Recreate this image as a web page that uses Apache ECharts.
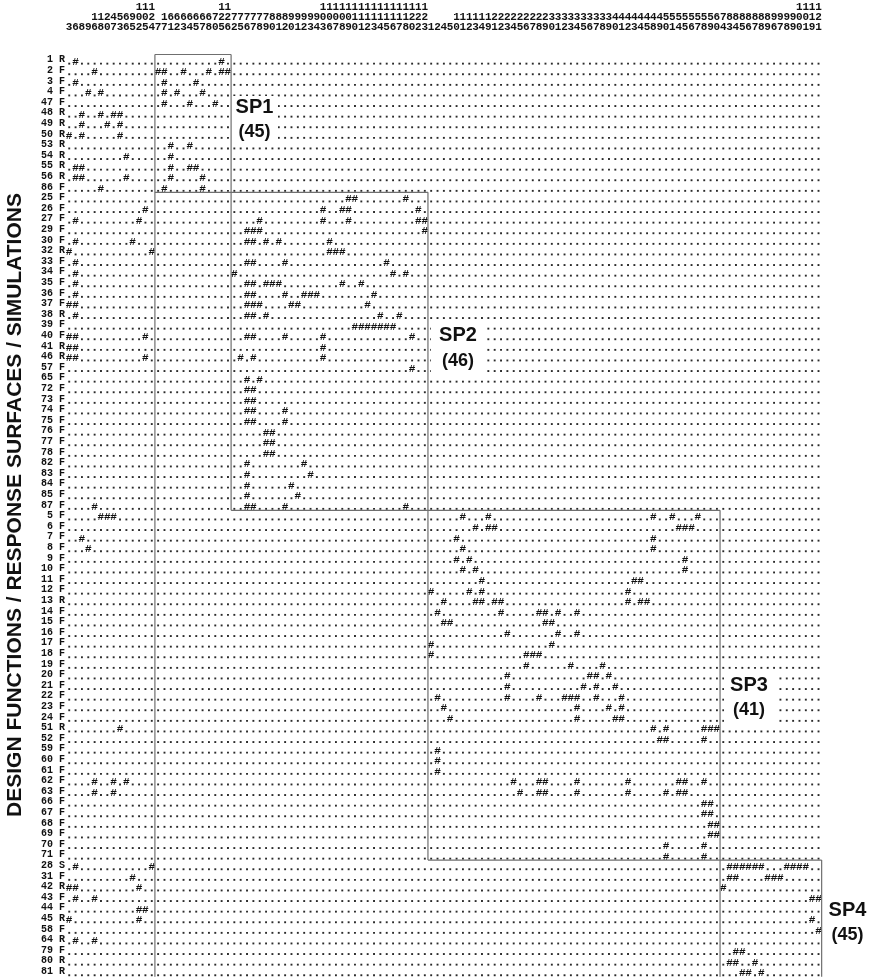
<!DOCTYPE html>
<html>
<head>
<meta charset="utf-8">
<script src="https://cdn.jsdelivr.net/npm/echarts@6.0.0/dist/echarts.min.js"></script>
<style>
html,body{margin:0;padding:0;background:#ffffff;}
#chart{width:882px;height:977px;}
</style>
</head>
<body>
<div id="chart"></div>
<script>
// ---------- DATA ----------
// column (variable) ids, read vertically in the header
const columnIds = [
  3,6,8,9,16,18,20,47,53,66,95,102,105,124,
  7,17,61,62,63,64,65,67,68,70,125,126,
  72,75,76,77,78,79,80,81,82,90,91,92,93,94,103,106,107,108,109,110,111,112,113,114,115,116,117,118,120,122,123,
  1,2,4,5,10,11,12,13,14,19,21,22,23,24,25,26,27,28,29,30,31,32,33,34,35,36,37,38,39,40,41,42,43,44,45,48,49,50,51,54,55,56,57,58,59,60,
  74,83,84,85,86,87,88,89,96,97,98,99,100,101,119,121
];

// row categories (design functions / response surfaces / simulations)
const rowLabels = [
  "1 R","2 F","3 F","4 F","47 F","48 R","49 R","50 R","53 R","54 R","55 R","56 R","86 F",
  "25 F","26 F","27 F","29 F","30 F","32 R","33 F","34 F","35 F","36 F","37 F","38 R","39 F","40 F","41 R","46 R","57 F","65 F","72 F","73 F","74 F","75 F","76 F","77 F","78 F","82 F","83 F","84 F","85 F","87 F",
  "5 F","6 F","7 F","8 F","9 F","10 F","11 F","12 F","13 R","14 F","15 F","16 F","17 F","18 F","19 F","20 F","21 F","22 F","23 F","24 F","51 R","52 F","59 F","60 F","61 F","62 F","63 F","66 F","67 F","68 F","69 F","70 F","71 F",
  "28 S","31 F","42 R","43 F","44 F","45 R","58 F","64 R","79 F","80 R","81 R"
];

// for each row: column positions marked '#'
const hashColumns = [
  [1,24],[4,14,15,18,22,24,25],[1,15,20],[3,5,15,17,21],[15,19,23],[2,5,7,8],[2,6,8],[0,2,8],
  [16,19],[9,16],[1,2,16,19,20],[1,2,9,16,21],[5,15,21],
  [44,45,53],[12,40,43,44,55],[1,11,30,40,44,55,56],[28,29,30,56],[1,10,28,29,31,33,41],
  [0,13,41,42,43],[1,28,29,34,50],[1,26,51,53],[1,28,29,31,32,33,43,46],[1,28,29,34,37,38,39,48],
  [0,1,28,29,30,35,36,47],[1,28,29,31,49,52],[45,46,47,48,49,50,51],[0,1,12,28,29,34,40,54],
  [0,1,40],[0,1,12,27,29,40],[54],[28,30],[28,29],[28,29],[28,29,34],[28,29,34],
  [31,32],[31,32],[31,32],[28,37],[28,38],[28,35],[28,36],[4,28,29,34,53],
  [5,6,7,62,66,92,95,99],[64,66,67,96,97,98],[2,61,92],[3,62,92],[61,63,97],[62,64,97],
  [65,89,90],[57,63,65,88],[59,64,65,67,68,88,90,91],[58,68,74,75,77,80],[59,60,75,76],
  [69,77,80],[57,76],[57,72,73,74],[72,79,84],[69,82,83,85],[69,81,83,86],
  [58,69,74,78,79,80,83,87],[59,80,85,87],[60,80,86,87],[8,92,94,100,101,102],[93,94,100],
  [58],[58],[58],[4,7,9,70,74,75,80,88,96,97,100],[4,7,71,74,75,80,88,94,96,97],
  [100,101],[100,101],[101,102],[101,102],[94,100],[94,100],
  [1,13,104,105,106,107,108,109,113,114,115,116],[10,104,105,110,111,112],[0,1,11,103],
  [1,4,117,118],[11,12],[0,11,117],[118],[1,4],[105,106],[104,105,108],[106,107,109]
];

// cluster boxes: [colStart, rowStart, colEnd, rowEnd] in cell-boundary units
const boxLines = [
  [14,0,14,87],[14,0,26,0],[26,0,26,43],[14,13,57,13],[57,13,57,76],
  [26,43,103,43],[103,43,103,87],[57,76,119,76],[119,76,119,87]
];

const clusterNames = ["SP1","SP2","SP3","SP4"];
const clusterCounts = ["(45)","(46)","(41)","(45)"];

// ---------- BUILD ----------
const NC = columnIds.length, NR = rowLabels.length;
const dotCells = [], hashCells = [];
rowLabels.forEach((lab, r) => {
  const s = new Set(hashColumns[r]);
  for (let c = 0; c < NC; c++) (s.has(c) ? hashCells : dotCells).push([c, r]);
});

const MONO = '"Liberation Mono","DejaVu Sans Mono",monospace';
const CELL_FONT = 'bold 11px ' + MONO;
const DY = 2;

function hashRenderer(params, api) {
  const p = api.coord([api.value(0), api.value(1)]);
  return {
    type: 'text', x: p[0], y: p[1] + DY, silent: true,
    style: { text: '#', font: CELL_FONT, fill: '#111', align: 'center', verticalAlign: 'middle' }
  };
}
function dotRenderer(params, api) {
  const p = api.coord([api.value(0), api.value(1)]);
  return {
    type: 'rect', silent: true,
    shape: { x: p[0] - 0.9, y: p[1] + DY + 0.9, width: 1.9, height: 1.9 },
    style: { fill: '#2a2a2a' }
  };
}

function boxRenderer(params, api) {
  const sz = api.size([1, 1]);
  const bx = c => { const cc = Math.min(c, NC - 1); return api.coord([cc, 0])[0] + (c > NC - 1 ? 0.5 : -0.5) * sz[0]; };
  const by = r => { const rr = Math.min(r, NR - 1); return api.coord([0, rr])[1] + (r > NR - 1 ? 0.5 : -0.5) * sz[1]; };
  const x1 = bx(api.value(2)), y1 = by(api.value(3)), x2 = bx(api.value(4)), y2 = by(api.value(5));
  return { type: 'line', silent: true, shape: { x1, y1, x2, y2 }, style: { stroke: '#6f6f6f', lineWidth: 1.2 } };
}

const chart = echarts.init(document.getElementById('chart'), null, { renderer: 'canvas' });

const labelPos = [
  { x: 254.5, y1: 107.5, y2: 132, rect: [233, 96, 45, 48] },
  { x: 458, y1: 335, y2: 361, rect: [431, 323, 54, 50] },
  { x: 749, y1: 685, y2: 710, rect: [724, 673, 51, 50] },
  { x: 847.5, y1: 910, y2: 935, rect: [826, 898, 45, 50] }
];
const graphics = [];
labelPos.forEach((p, i) => {
  graphics.push({ type: 'rect', z: 100, silent: true, shape: { x: p.rect[0], y: p.rect[1], width: p.rect[2], height: p.rect[3] }, style: { fill: '#ffffff' } });
  graphics.push({ type: 'text', z: 101, silent: true, x: p.x, y: p.y1, style: { text: clusterNames[i], font: 'bold 20px "Liberation Sans",Arial,sans-serif', fill: '#111', align: 'center', verticalAlign: 'middle' } });
  graphics.push({ type: 'text', z: 101, silent: true, x: p.x, y: p.y2, style: { text: clusterCounts[i], font: 'bold 18px "Liberation Sans",Arial,sans-serif', fill: '#111', align: 'center', verticalAlign: 'middle' } });
});
graphics.push({
  type: 'text', z: 101, silent: true, x: 15, y: 505, rotation: Math.PI / 2,
  style: { text: 'DESIGN FUNCTIONS / RESPONSE SURFACES / SIMULATIONS', font: 'bold 21px "Liberation Sans",Arial,sans-serif', fill: '#111', align: 'center', verticalAlign: 'middle' }
});

chart.setOption({
  animation: false,
  backgroundColor: '#ffffff',
  grid: { left: 66, top: 54.5, width: 755.65, height: 922.2, containLabel: false },
  xAxis: {
    type: 'category', position: 'top', data: columnIds.map(String),
    axisLine: { show: false }, axisTick: { show: false }, splitLine: { show: false },
    axisLabel: {
      interval: 0, margin: 22.5, color: '#111', fontFamily: MONO, fontWeight: 'bold', fontSize: 11, lineHeight: 10,
      formatter: v => String(v).split('').join('\n')
    }
  },
  yAxis: {
    type: 'category', inverse: true, data: rowLabels,
    axisLine: { show: false }, axisTick: { show: false }, splitLine: { show: false },
    axisLabel: { interval: 0, margin: 1, color: '#111', fontFamily: MONO, fontWeight: 'bold', fontSize: 10, padding: [2 * DY, 0, 0, 0] }
  },
  series: [
    { type: 'custom', name: 'dots', coordinateSystem: 'cartesian2d', data: dotCells, encode: { x: 0, y: 1 }, renderItem: dotRenderer, progressive: 0, clip: false },
    { type: 'custom', name: 'hits', coordinateSystem: 'cartesian2d', data: hashCells, encode: { x: 0, y: 1 }, renderItem: hashRenderer, progressive: 0, clip: false },
    { type: 'custom', name: 'clusters', coordinateSystem: 'cartesian2d', data: boxLines.map(b => [0, 0].concat(b)), encode: { x: 0, y: 1 }, renderItem: boxRenderer, clip: false, z: 5 }
  ],
  graphic: graphics
});
</script>
</body>
</html>
